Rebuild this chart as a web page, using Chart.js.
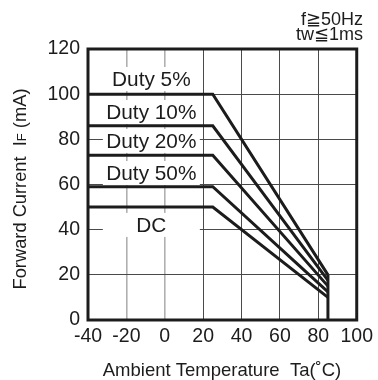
<!DOCTYPE html>
<html>
<head>
<meta charset="utf-8">
<script src="https://cdn.jsdelivr.net/npm/chart.js@4/dist/chart.umd.min.js"></script>
<style>
  html, body { margin: 0; padding: 0; background: #fff; }
  #wrap { width: 378px; height: 380px; }
</style>
</head>
<body>
<div id="wrap"><canvas id="c" width="378" height="380"></canvas></div>
<script>
// ---- data ----
const seriesNames = ['Duty 5%', 'Duty 10%', 'Duty 20%', 'Duty 50%', 'DC'];
const flatCurrent = [100, 86, 73, 59, 50];        // mA, from -40 to 25 °C
const endCurrent  = [20, 17.5, 15, 12.5, 10];     // mA at 85 °C
const kneeTemp = 25;
const startTemp = -40;
const maxTemp = 85;
const xTicks = [-40, -20, 0, 20, 40, 60, 80, 100];
const yTicks = [0, 20, 40, 60, 80, 100, 120];
const noteLines = ['f\u226750Hz', 'tw\u22661ms'];
const xTitle = 'Ambient Temperature  Ta(\u02DAC)';

// label anchors (data units)
const labelX = -7;
const labelY = [106.7, 92.1, 79.3, 65.1, 42.1];

const FONT = '"Liberation Sans", Arial, sans-serif';
const INK = '#1c1c1c';

const datasets = seriesNames.map((n, i) => ({
  label: n,
  data: [
    { x: startTemp, y: flatCurrent[i] },
    { x: kneeTemp, y: flatCurrent[i] },
    { x: maxTemp, y: endCurrent[i] }
  ],
  borderColor: INK,
  borderWidth: 3,
  pointRadius: 0,
  tension: 0,
  fill: false
}));
datasets.push({
  label: 'limit',
  data: [{ x: maxTemp, y: Math.max(...endCurrent) }, { x: maxTemp, y: 0 }],
  borderColor: INK,
  borderWidth: 3,
  pointRadius: 0,
  fill: false
});

const decor = {
  id: 'decor',
  beforeDatasetsDraw(chart) {
    const ctx = chart.ctx;
    const xs = chart.scales.x, ys = chart.scales.y;
    ctx.save();
    ctx.font = '20.8px ' + FONT;
    ctx.textAlign = 'center';
    ctx.textBaseline = 'middle';
    seriesNames.forEach((n, i) => {
      const cx = xs.getPixelForValue(labelX);
      const cy = ys.getPixelForValue(labelY[i]);
      ctx.fillStyle = '#fff';
      ctx.fillRect(cx - 48.5, cy - 12, 97, 24);
      ctx.fillStyle = INK;
      ctx.fillText(n, cx, cy + 1);
    });
    ctx.restore();
  },
  afterDatasetsDraw(chart) {
    const ctx = chart.ctx;
    const a = chart.chartArea;
    ctx.save();
    ctx.strokeStyle = INK;
    ctx.lineWidth = 3;
    ctx.strokeRect(a.left, a.top, a.right - a.left, a.bottom - a.top);
    ctx.restore();
  },
  afterDraw(chart) {
    const ctx = chart.ctx;
    const a = chart.chartArea;
    ctx.save();
    ctx.fillStyle = INK;
    // notes top-right
    ctx.font = '18px ' + FONT;
    ctx.textAlign = 'right';
    ctx.textBaseline = 'alphabetic';
    ctx.fillText(noteLines[0], 363, 25);
    ctx.fillText(noteLines[1], 363, 40);
    // x title
    ctx.font = '18.5px ' + FONT;
    ctx.textAlign = 'center';
    ctx.fillText(xTitle, 222, 376);
    // y title with small F
    const p1 = 'Forward Current  I', p2 = 'F', p3 = ' (mA)';
    const big = '18.3px ' + FONT, small = '13px ' + FONT;
    ctx.font = big; const w1 = ctx.measureText(p1).width, w3 = ctx.measureText(p3).width;
    ctx.font = small; const w2 = ctx.measureText(p2).width;
    const total = w1 + w2 + w3;
    ctx.translate(26, 189);
    ctx.rotate(-Math.PI / 2);
    ctx.textAlign = 'left';
    let x = -total / 2;
    ctx.font = big; ctx.fillText(p1, x, 0); x += w1;
    ctx.font = small; ctx.fillText(p2, x, 0); x += w2;
    ctx.font = big; ctx.fillText(p3, x, 0);
    ctx.restore();
  }
};

new Chart(document.getElementById('c'), {
  type: 'line',
  data: { datasets },
  options: {
    responsive: false,
    animation: false,
    events: [],
    layout: { padding: { top: 49, right: 19, left: 0, bottom: 0 } },
    plugins: { legend: { display: false }, tooltip: { enabled: false }, title: { display: false } },
    scales: {
      x: {
        type: 'linear',
        min: xTicks[0], max: xTicks[xTicks.length - 1],
        afterBuildTicks: s => { s.ticks = xTicks.map(v => ({ value: v })); },
        afterFit: s => { s.height = 60; },
        border: { display: false },
        grid: {
          drawTicks: false,
          color: c => (c.tick.value === -20 || c.tick.value === 0) ? '#b0b0b0' : '#4a4a4a',
          lineWidth: c => (c.tick.value === -40 || c.tick.value === 100) ? 0 : ((c.tick.value === -20 || c.tick.value === 0) ? 1.6 : 1)
        },
        ticks: { color: INK, font: { family: FONT, size: 19.5 }, padding: 5, maxRotation: 0, autoSkip: false }
      },
      y: {
        type: 'linear',
        min: yTicks[0], max: yTicks[yTicks.length - 1],
        afterBuildTicks: s => { s.ticks = yTicks.map(v => ({ value: v })); },
        afterFit: s => { s.width = 88; },
        border: { display: false },
        grid: {
          drawTicks: false,
          color: '#4a4a4a',
          lineWidth: c => (c.tick.value === 0 || c.tick.value === 120) ? 0 : 1
        },
        ticks: { color: INK, font: { family: FONT, size: 19.5 }, padding: 8 }
      }
    }
  },
  plugins: [decor]
});
</script>
</body>
</html>
